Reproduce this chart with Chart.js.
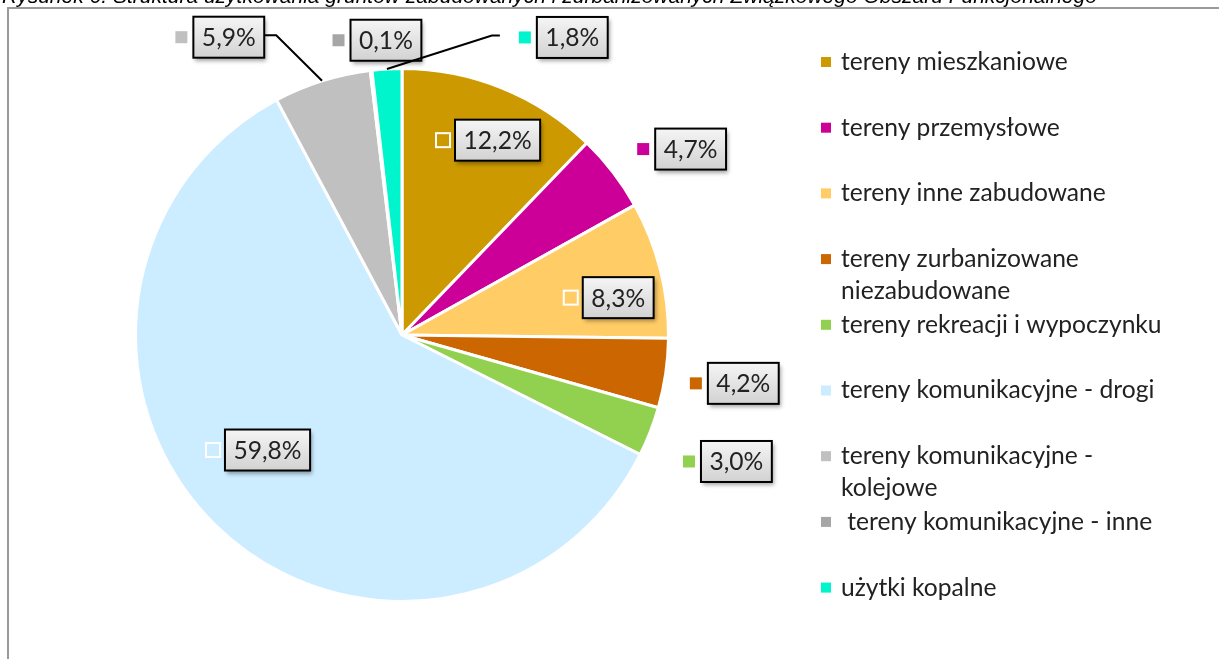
<!DOCTYPE html>
<html>
<head>
<meta charset="utf-8">
<script src="https://cdn.jsdelivr.net/npm/chart.js@4.4.1/dist/chart.umd.min.js"></script>
<style>
html, body { margin: 0; padding: 0; background: #fff; }
#wrap { width: 1219px; height: 659px; position: relative; }
</style>
</head>
<body>
<div id="wrap"><canvas id="c" width="1219" height="659"></canvas></div>
<script>
var title = 'Rysunek 6. Struktura użytkowania gruntów zabudowanych i zurbanizowanych Związkowego Obszaru Funkcjonalnego';
var categories = [
    'tereny mieszkaniowe',
    'tereny przemysłowe',
    'tereny inne zabudowane',
    'tereny zurbanizowane niezabudowane',
    'tereny rekreacji i wypoczynku',
    'tereny komunikacyjne - drogi',
    'tereny komunikacyjne - kolejowe',
    ' tereny komunikacyjne - inne',
    'użytki kopalne'
];
var shares = [12.2, 4.7, 8.3, 4.2, 3.0, 59.8, 5.9, 0.1, 1.8];
var colors = ['#CC9900', '#CC0099', '#FFCC66', '#CC6600', '#92D050', '#CCECFF', '#C0C0C0', '#A6A6A6', '#00F5CC'];

// where each value box sits: distance from centre (x radius) and a turn off the slice middle (degrees)
var labelDist = [0.80, 1.26, 0.79, 1.26, 1.31, 0.69, 1.31, 1.11, 1.27];
var labelTurn = [2, 4, 4, 0, 0, 7, -14, 1.8, 31.7];
var withLeader = [false, false, false, false, false, false, true, false, true];

var valueLabels = shares.map(function(v) { return v.toFixed(1).replace('.', ',') + '%'; });

var FONT = 'Lato, "Open Sans", sans-serif';

// pick the size that makes a sample string as wide as in the picture
function fitSize(ctx, text, family, style, target) {
    ctx.font = style + ' 20px ' + family;
    return 20 * target / ctx.measureText(text).width;
}

function wrapText(ctx, text, maxW) {
    var lead = text.match(/^\s*/)[0];
    var words = text.trim().split(' ');
    var lines = [];
    var cur = lead + words[0];
    for (var i = 1; i < words.length; i++) {
        var test = cur + ' ' + words[i];
        if (ctx.measureText(test).width > maxW) {
            lines.push(cur);
            cur = words[i];
        } else {
            cur = test;
        }
    }
    lines.push(cur);
    return lines;
}

var framePlugin = {
    id: 'frame',
    beforeDraw: function(chart) {
        var ctx = chart.ctx;
        ctx.save();
        ctx.fillStyle = '#fff';
        ctx.fillRect(0, 0, chart.width, chart.height);
        var ts = fitSize(ctx, title, '"Liberation Sans", Arial, sans-serif', 'italic', 1095);
        ctx.font = 'italic ' + ts + 'px "Liberation Sans", Arial, sans-serif';
        ctx.fillStyle = '#000';
        ctx.textBaseline = 'alphabetic';
        ctx.fillText(title, 2, 3);
        ctx.strokeStyle = '#9a9a9a';
        ctx.lineWidth = 2;
        ctx.beginPath();
        ctx.moveTo(chart.width, 8);
        ctx.lineTo(8, 8);
        ctx.lineTo(8, chart.height);
        ctx.stroke();
        ctx.restore();
    }
};

var labelPlugin = {
    id: 'valueBoxes',
    afterDatasetsDraw: function(chart) {
        var ctx = chart.ctx;
        var arcs = chart.getDatasetMeta(0).data;
        var fs = fitSize(ctx, 'tereny mieszkaniowe', FONT, '', 227);
        ctx.save();
        ctx.font = fs + 'px ' + FONT;
        for (var i = 0; i < arcs.length; i++) {
            var a = arcs[i];
            var mid = (a.startAngle + a.endAngle) / 2;
            var ang = mid + labelTurn[i] * Math.PI / 180;
            var r = a.outerRadius * labelDist[i];
            var cx = a.x + r * Math.cos(ang);
            var cy = a.y + r * Math.sin(ang);
            var tw = ctx.measureText(valueLabels[i]).width;
            var bw = tw + 17, bh = 41, sq = 12, gap = 6;
            var gw = sq + gap + bw;
            var left = cx - gw / 2;
            var bx = left + sq + gap, by = cy - bh / 2;

            if (withLeader[i]) {
                var ex = a.x + a.outerRadius * Math.cos(mid);
                var ey = a.y + a.outerRadius * Math.sin(mid);
                var sx, hx;
                if (cx < a.x) { sx = bx + bw; hx = sx + 12; }
                else { sx = left - 19; hx = sx - 8; }
                ctx.strokeStyle = '#000';
                ctx.lineWidth = 2;
                ctx.beginPath();
                ctx.moveTo(sx, cy - 2);
                ctx.lineTo(hx, cy - 2);
                ctx.lineTo(ex, ey);
                ctx.stroke();
            }

            // colour key, white rim shows only over the slice
            ctx.fillStyle = colors[i];
            ctx.strokeStyle = '#fff';
            ctx.lineWidth = 4;
            ctx.strokeRect(left, cy - sq / 2, sq, sq);
            ctx.fillRect(left, cy - sq / 2, sq, sq);

            // box with shadow
            ctx.save();
            ctx.shadowColor = 'rgba(0,0,0,0.35)';
            ctx.shadowBlur = 4;
            ctx.shadowOffsetX = 2;
            ctx.shadowOffsetY = 3;
            var g = ctx.createLinearGradient(0, by, 0, by + bh);
            g.addColorStop(0, '#f5f5f5');
            g.addColorStop(1, '#d2d2d2');
            ctx.fillStyle = g;
            ctx.fillRect(bx, by, bw, bh);
            ctx.restore();
            ctx.strokeStyle = '#000';
            ctx.lineWidth = 2;
            ctx.strokeRect(bx, by, bw, bh);

            ctx.fillStyle = '#222';
            ctx.textAlign = 'center';
            ctx.textBaseline = 'middle';
            ctx.fillText(valueLabels[i], bx + bw / 2, cy + 1);
        }
        ctx.restore();
    }
};

var legendPlugin = {
    id: 'sideLegend',
    afterDraw: function(chart) {
        var ctx = chart.ctx;
        var fs = fitSize(ctx, 'tereny mieszkaniowe', FONT, '', 227);
        ctx.save();
        ctx.font = fs + 'px ' + FONT;
        ctx.textBaseline = 'middle';
        ctx.textAlign = 'left';
        var y0 = 62, pitch = 65.7, lineH = 32;
        for (var i = 0; i < categories.length; i++) {
            var y = y0 + i * pitch;
            ctx.fillStyle = colors[i];
            ctx.fillRect(821, y - 5, 10, 10);
            ctx.fillStyle = '#222';
            var lines = wrapText(ctx, categories[i], 335);
            for (var j = 0; j < lines.length; j++) {
                ctx.fillText(lines[j], 841, y + j * lineH);
            }
        }
        ctx.restore();
    }
};

new Chart(document.getElementById('c').getContext('2d'), {
    type: 'pie',
    data: {
        labels: categories,
        datasets: [{
            data: shares,
            backgroundColor: colors,
            borderColor: '#fff',
            borderWidth: 3
        }]
    },
    options: {
        responsive: false,
        animation: false,
        layout: { padding: { left: 134, right: 549, top: 67, bottom: 56 } },
        plugins: {
            legend: { display: false },
            tooltip: { enabled: false }
        }
    },
    plugins: [framePlugin, labelPlugin, legendPlugin]
});
</script>
</body>
</html>
